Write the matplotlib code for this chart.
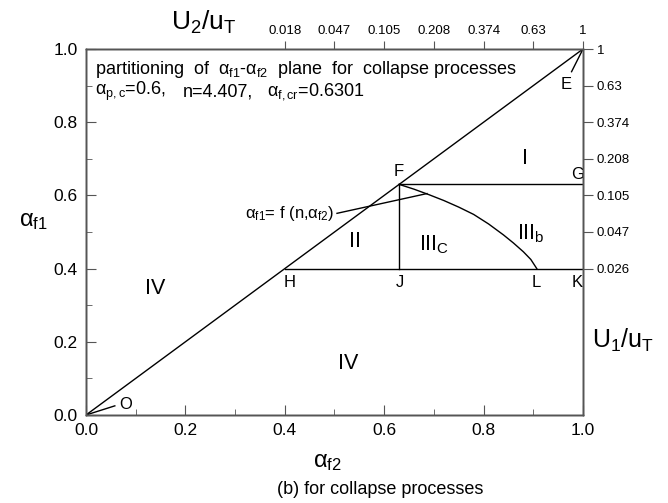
import matplotlib
matplotlib.use("Agg")
import matplotlib.pyplot as plt

plt.rcParams['font.family'] = ['Liberation Sans', 'DejaVu Sans']
plt.rcParams['mathtext.fontset'] = 'custom'
plt.rcParams['mathtext.rm'] = 'Liberation Sans'
plt.rcParams['mathtext.it'] = 'Liberation Sans:italic'
plt.rcParams['mathtext.default'] = 'regular'

# partition boundaries in the alpha_f2 / alpha_f1 plane
alpha_f_cr = 0.6301
alpha_low = 0.4
diag_f2 = [0.0, 1.0]
diag_f1 = [0.0, 1.0]
# alpha_f1 = f(n, alpha_f2), from F down to L
curve_f2 = [0.6301, 0.660, 0.690, 0.720, 0.750, 0.780, 0.810, 0.840, 0.860, 0.880, 0.895, 0.907]
curve_f1 = [0.6301, 0.617, 0.602, 0.586, 0.568, 0.548, 0.522, 0.492, 0.470, 0.446, 0.425, 0.400]

# secondary scales: U/u_T against alpha
top_ticks = [0.4, 0.5, 0.6, 0.7, 0.8, 0.9, 1.0]
top_labels = ['0.018', '0.047', '0.105', '0.208', '0.374', '0.63', '1']
right_ticks = [0.4, 0.5, 0.6, 0.7, 0.8, 0.9, 1.0]
right_labels = ['0.026', '0.047', '0.105', '0.208', '0.374', '0.63', '1']

W, H = 668, 503
fig = plt.figure(figsize=(W / 100, H / 100), dpi=100)
ax = fig.add_axes([86 / W, (H - 415) / H, 497 / W, 366 / H])
ax.set_xlim(0, 1)
ax.set_ylim(0, 1)

lc = 'black'
lw = 1.0
ax.plot(diag_f2, diag_f1, color=lc, lw=lw)
ax.plot([alpha_f_cr, 1.0], [alpha_f_cr, alpha_f_cr], color=lc, lw=lw)
ax.plot([alpha_low, 1.0], [alpha_low, alpha_low], color=lc, lw=lw)
ax.plot([alpha_f_cr, alpha_f_cr], [alpha_low, alpha_f_cr], color=lc, lw=lw)
ax.plot(curve_f2, curve_f1, color=lc, lw=lw)
# pointer lines for labels
ax.plot([1.0, 0.977], [1.0, 0.938], color=lc, lw=lw)
ax.plot([0.0, 0.058], [0.0, 0.025], color=lc, lw=lw)
ax.plot([0.505, 0.686], [0.551, 0.605], color=lc, lw=lw)

pt = dict(fontsize=12, ha='center', va='center')
ax.text(0.080, 0.028, 'O', **pt)
ax.text(0.966, 0.903, 'E', **pt)
ax.text(0.63, 0.664, 'F', **pt)
ax.text(0.99, 0.658, 'G', **pt)
ax.text(0.41, 0.362, 'H', **pt)
ax.text(0.632, 0.362, 'J', **pt)
ax.text(0.905, 0.362, 'L', **pt)
ax.text(0.988, 0.362, 'K', **pt)

rg = dict(fontsize=15.5, ha='center', va='center')
ax.text(0.883, 0.702, 'I', **rg)
ax.text(0.541, 0.474, 'II', **rg)
ax.text(0.70, 0.466, r'III$_{\mathregular{C}}$', **rg)
ax.text(0.895, 0.496, r'III$_{\mathregular{b}}$', **rg)
ax.text(0.139, 0.346, 'IV', **rg)
ax.text(0.528, 0.141, 'IV', **rg)

ax.text(0.50, 0.551, r'α$_{\mathregular{f1}}$= f (n,α$_{\mathregular{f2}}$)',
        fontsize=12, ha='right', va='center')

ax.text(0.018, 0.943,
        r'partitioning  of  α$_{\mathregular{f1}}$-α$_{\mathregular{f2}}$  plane  for  collapse processes',
        fontsize=13, ha='left', va='center')
ax.text(0.018, 0.883, r'α$_{\mathregular{p,c}}$=0.6,', fontsize=13, ha='left', va='center')
ax.text(0.195, 0.883, 'n=4.407,', fontsize=13, ha='left', va='center')
ax.text(0.365, 0.883, r'α$_{\mathregular{f,cr}}$=0.6301', fontsize=13, ha='left', va='center')

ax.set_xticks([0.0, 0.2, 0.4, 0.6, 0.8, 1.0])
ax.set_xticks([0.1, 0.3, 0.5, 0.7, 0.9], minor=True)
ax.set_yticks([0.0, 0.2, 0.4, 0.6, 0.8, 1.0])
ax.set_yticks([0.1, 0.3, 0.5, 0.7, 0.9], minor=True)
ax.set_xticklabels(['0.0', '0.2', '0.4', '0.6', '0.8', '1.0'])
ax.set_yticklabels(['0.0', '0.2', '0.4', '0.6', '0.8', '1.0'])
ax.tick_params(which='both', direction='in', top=False, right=False,
               labelsize=12.5, color='#555555')
ax.tick_params(which='major', length=7, pad=6)
ax.tick_params(which='minor', length=4)

ax_top = ax.twiny()
ax_top.set_xlim(0, 1)
ax_top.set_xticks(top_ticks)
ax_top.set_xticklabels(top_labels)
ax_top.tick_params(direction='out', length=6, labelsize=9.5, pad=3, color='#555555')

ax_right = ax.twinx()
ax_right.set_ylim(0, 1)
ax_right.set_yticks(right_ticks)
ax_right.set_yticklabels(right_labels)
ax_right.tick_params(direction='out', length=7, labelsize=9.5, pad=3, color='#555555')

for a in (ax, ax_top, ax_right):
    for s in a.spines.values():
        s.set_color('#555555')
        s.set_linewidth(1.0)

# axis titles
fig.text(33 / W, 1 - 221 / H, r'α$_{\mathregular{f1}}$', fontsize=17, ha='center', va='center')
fig.text(327 / W, 1 - 462 / H, r'α$_{\mathregular{f2}}$', fontsize=17, ha='center', va='center')
fig.text(204 / W, 1 - 22 / H, r'U$_{\mathregular{2}}$/u$_{\mathregular{T}}$', fontsize=19, ha='center', va='center')
fig.text(592 / W, 1 - 340 / H, r'U$_{\mathregular{1}}$/u$_{\mathregular{T}}$', fontsize=18, ha='left', va='center')
fig.text(380 / W, 1 - 490 / H, '(b) for collapse processes', fontsize=13, ha='center', va='center')

fig.savefig('out.png', dpi=100, facecolor='white')
